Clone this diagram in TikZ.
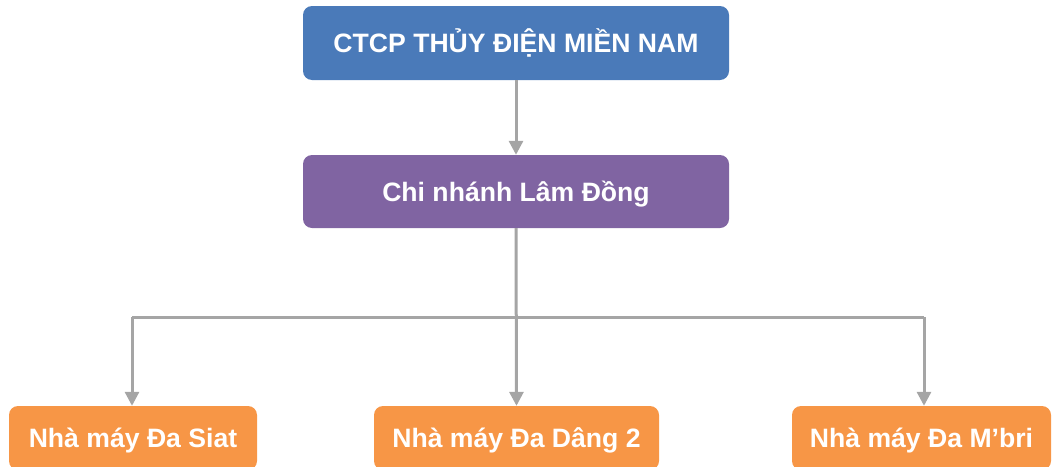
\documentclass[tikz,border=0pt]{standalone}
\usepackage{fontspec}
\setmainfont{Liberation Sans}
\usetikzlibrary{arrows.meta}
\definecolor{cblue}{HTML}{4A7AB9}
\definecolor{cpurple}{HTML}{8064A2}
\definecolor{corange}{HTML}{F79646}
\definecolor{cgray}{HTML}{A5A5A5}
\begin{document}
\begin{tikzpicture}[x=1pt,y=-1pt,
  box/.style={rounded corners=9pt, inner sep=0pt, text=white,
    font=\fontsize{26.6}{30}\selectfont\bfseries, text height=19pt, text depth=0pt},
  conn/.style={draw=cgray, line width=3pt},
  arr/.style={conn, -{Triangle[width=14pt,length=14pt]}}]
\useasboundingbox (0,0) rectangle (1052,466);
\clip (0,0) rectangle (1052,466);
\node[box, fill=cblue, minimum width=426pt, minimum height=74pt] (top) at (516,43) {CTCP THỦY ĐIỆN MIỀN NAM};
\node[box, fill=cpurple, minimum width=426pt, minimum height=73pt] (mid) at (516,191.5) {Chi nhánh Lâm Đồng};
\node[box, fill=corange, minimum width=248pt, minimum height=64pt] (b1) at (133,438) {Nhà máy Đa Siat};
\node[box, fill=corange, minimum width=285pt, minimum height=64pt] (b2) at (516.5,438) {Nhà máy Đa Dâng 2};
\node[box, fill=corange, minimum width=259pt, minimum height=64pt] (b3) at (921.5,438) {Nhà máy Đa M’bri};
\coordinate (hl) at (132,317);
\coordinate (hr) at (924,317);
\draw[arr] (top.south) -- (mid.north);
\draw[arr] (mid.south) -- (b2.north);
\draw[conn] (hl) -- (hr);
\draw[arr] (hl) -- (hl |- b1.north);
\draw[arr] (hr) -- (hr |- b3.north);
\end{tikzpicture}
\end{document}
